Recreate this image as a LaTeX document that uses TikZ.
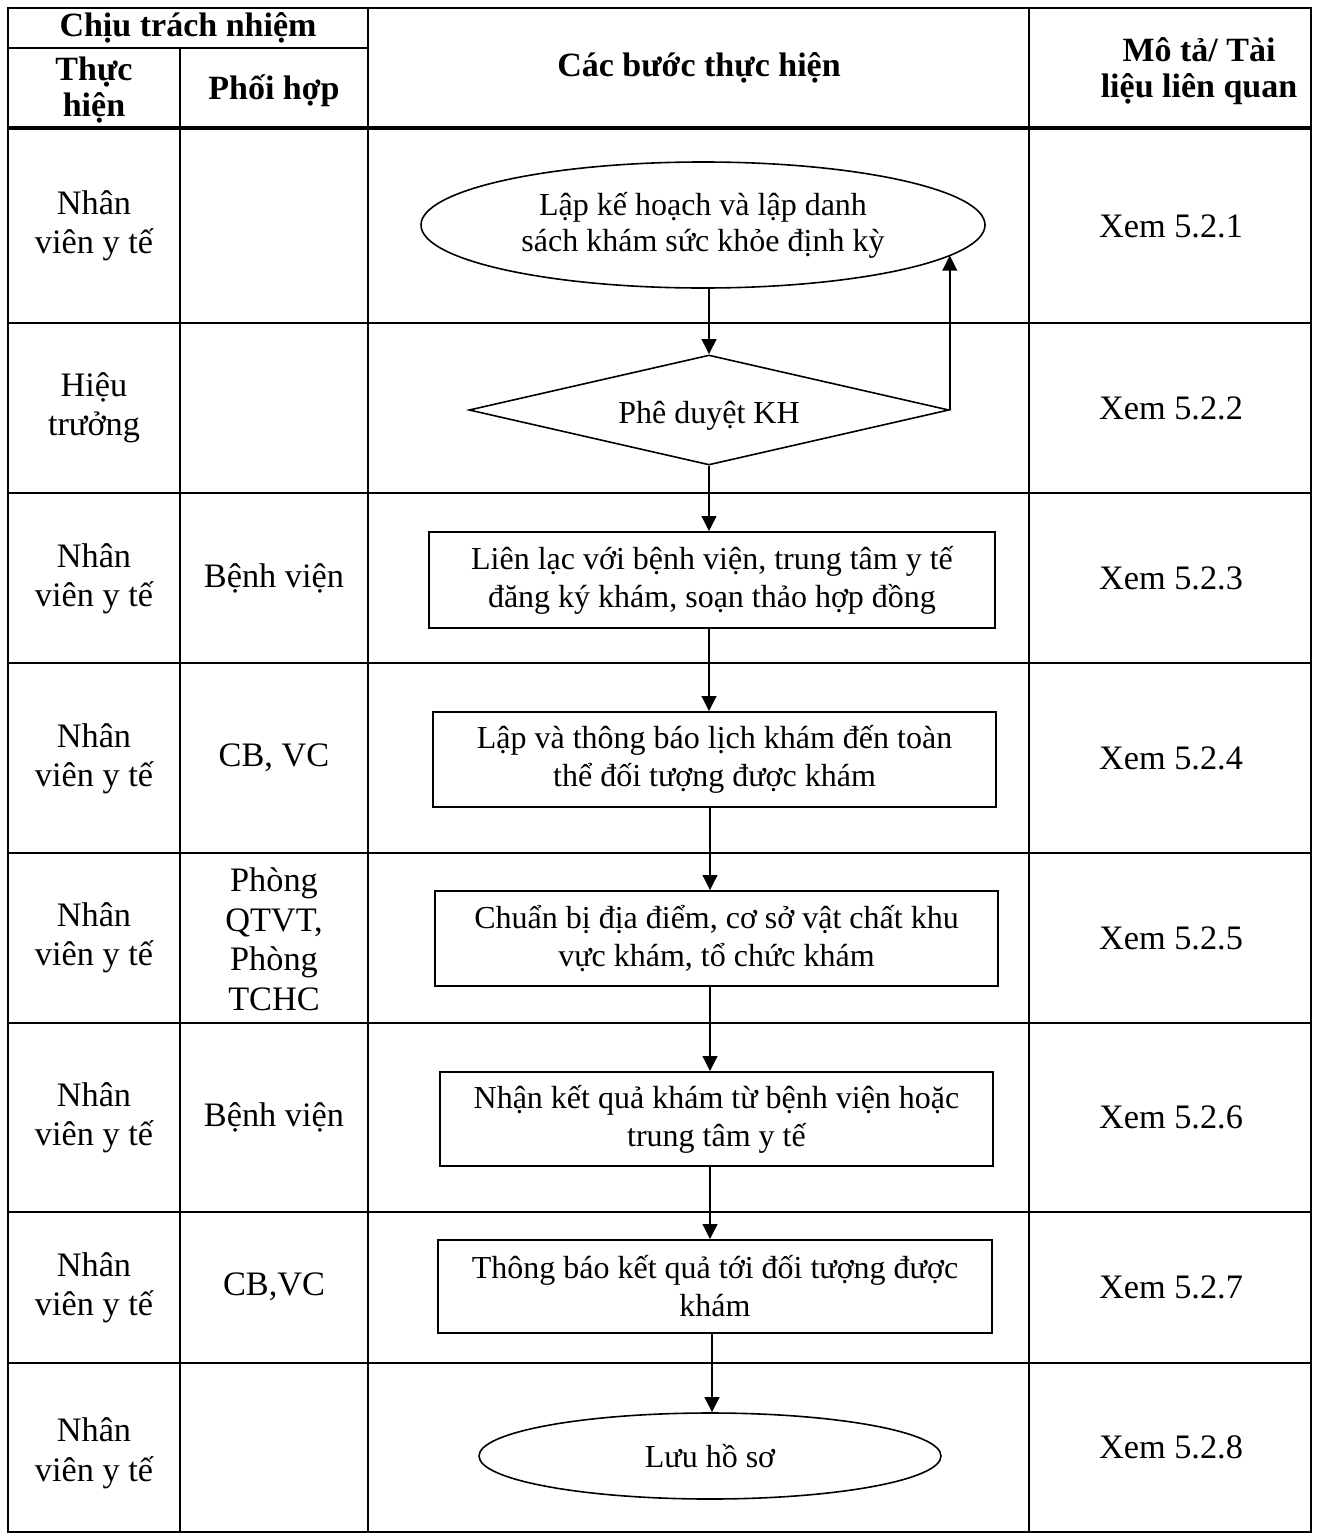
\documentclass[tikz,border=0pt]{standalone}
\usepackage{fontspec}
\setmainfont{Liberation Serif}
\usetikzlibrary{shapes.geometric,arrows.meta}
\begin{document}
\begin{tikzpicture}[x=1pt,y=-1pt,
  tline/.style={line width=2.3pt},
  hline/.style={line width=3.2pt},
  tabtxt/.style={font=\fontsize{34.3}{39.5}\selectfont, align=center, inner sep=0pt},
  hdr/.style={font=\bfseries\fontsize{34}{36.5}\selectfont, align=center, inner sep=0pt},
  flowbox/.style={draw, rectangle, line width=1.7pt, align=center, inner sep=0pt,
    font=\fontsize{32}{38}\selectfont},
  flowell/.style={draw, ellipse, line width=1.6pt, align=center, inner sep=0pt,
    font=\fontsize{32}{36}\selectfont},
  flowdia/.style={draw, diamond, aspect=4.36, line width=1.6pt, align=center, inner sep=0pt,
    font=\fontsize{32}{36}\selectfont},
  arr/.style={line width=2.3pt, -{Triangle[length=15pt,width=14.5pt]}}
]
\useasboundingbox (0,0) rectangle (1317,1539);

% ---- table grid ----
\draw[tline] (8,8) rectangle (1311,1532);
\draw[tline] (8,48) -- (368,48);
\draw[tline] (180,48) -- (180,1532);
\draw[tline] (368,8) -- (368,1532);
\draw[tline] (1029,8) -- (1029,1532);
\draw[hline] (8,128) -- (1311,128);
\foreach \yy in {323,493,663,853,1023,1212,1363}
  \draw[tline] (8,\yy) -- (1311,\yy);

% ---- header ----
\node[hdr] (hcth) at (188,28) {Chịu trách nhiệm};
\node[hdr] (hth) at (94,90) {Thực\\hiện};
\node[hdr] (hph) at (274,91) {Phối hợp};
\node[hdr] (hbuoc) at (699,68) {Các bước thực hiện};
\node[hdr] (hmota) at (1199,71) {Mô tả/ Tài\\liệu liên quan};

% ---- column 1 ----
\node[tabtxt] (t1) at (94,226) {Nhân\\viên y tế};
\node[tabtxt] (t2) at (94,408) {Hiệu\\trưởng};
\node[tabtxt] (t3) at (94,579) {Nhân\\viên y tế};
\node[tabtxt] (t4) at (94,759) {Nhân\\viên y tế};
\node[tabtxt] (t5) at (94,938) {Nhân\\viên y tế};
\node[tabtxt] (t6) at (94,1118) {Nhân\\viên y tế};
\node[tabtxt] (t7) at (94,1288) {Nhân\\viên y tế};
\node[tabtxt] (t8) at (94,1453) {Nhân\\viên y tế};

% ---- column 2 ----
\node[tabtxt] (p3) at (274,578) {Bệnh viện};
\node[tabtxt] (p4) at (274,758) {CB, VC};
\node[tabtxt] (p5) at (274,939) {Phòng\\QTVT,\\Phòng\\TCHC};
\node[tabtxt] (p6) at (274,1117) {Bệnh viện};
\node[tabtxt] (p7) at (274,1287) {CB,VC};

% ---- column 4 ----
\node[tabtxt] (m1) at (1171,226) {Xem 5.2.1};
\node[tabtxt] (m2) at (1171,408) {Xem 5.2.2};
\node[tabtxt] (m3) at (1171,578) {Xem 5.2.3};
\node[tabtxt] (m4) at (1171,758) {Xem 5.2.4};
\node[tabtxt] (m5) at (1171,938) {Xem 5.2.5};
\node[tabtxt] (m6) at (1171,1117) {Xem 5.2.6};
\node[tabtxt] (m7) at (1171,1287) {Xem 5.2.7};
\node[tabtxt] (m8) at (1171,1447) {Xem 5.2.8};

% ---- flowchart ----
\node[flowell, minimum width=564pt, minimum height=126pt] (e1) at (703,225)
  {Lập kế hoạch và lập danh\\sách khám sức khỏe định kỳ};
\node[flowdia, minimum width=480pt, minimum height=110pt] (d1) at (709,410)
  {\raisebox{-6pt}[\height][\depth]{Phê duyệt KH}};
\node[flowbox, minimum width=566pt, minimum height=96pt] (b1) at (712,580)
  {Liên lạc với bệnh viện, trung tâm y tế\\đăng ký khám, soạn thảo hợp đồng};
\node[flowbox, minimum width=563pt, minimum height=95pt] (b2) at (714.5,759.5)
  {Lập và thông báo lịch khám đến toàn\\thể đối tượng được khám};
\node[flowbox, minimum width=563pt, minimum height=95pt] (b3) at (716.5,938.5)
  {Chuẩn bị địa điểm, cơ sở vật chất khu\\vực khám, tổ chức khám};
\node[flowbox, minimum width=553pt, minimum height=94pt] (b4) at (716.5,1119)
  {Nhận kết quả khám từ bệnh viện hoặc\\trung tâm y tế};
\node[flowbox, minimum width=554pt, minimum height=93pt] (b5) at (715,1286.5)
  {Thông báo kết quả tới đối tượng được\\khám};
\node[flowell, minimum width=462pt, minimum height=86pt] (e2) at (710,1456)
  {Lưu hồ sơ};

\coordinate (ax) at (709,0);
\coordinate (bx) at (710,0);
\coordinate (cx) at (712,0);
\draw[arr] (e1.south -| ax) -- (d1.north);
\draw[arr] (d1.south) -- (b1.north -| ax);
\draw[arr] (b1.south -| ax) -- (b2.north -| ax);
\draw[arr] (b2.south -| bx) -- (b3.north -| bx);
\draw[arr] (b3.south -| bx) -- (b4.north -| bx);
\draw[arr] (b4.south -| bx) -- (b5.north -| bx);
\draw[arr] (b5.south -| cx) -- (e2.north -| cx);
\draw[arr] (d1.east) -- (d1.east |- e1.-7);
\end{tikzpicture}
\end{document}
